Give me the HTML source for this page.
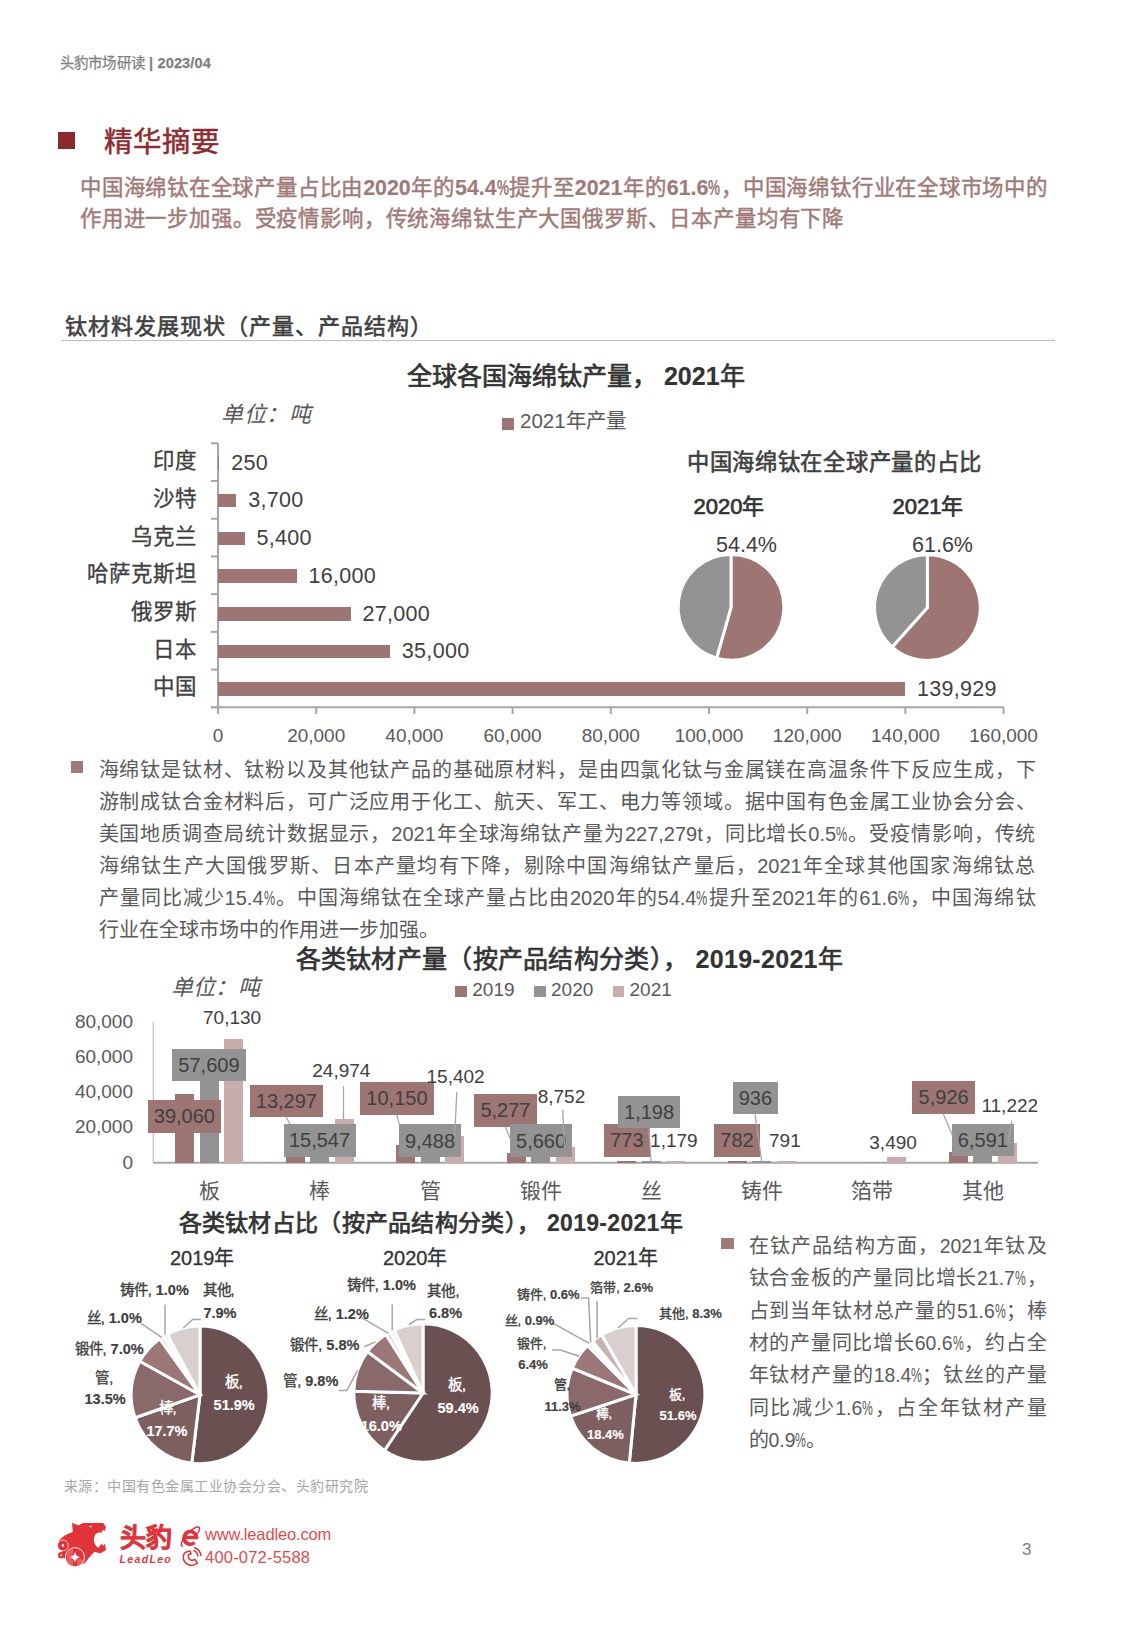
<!DOCTYPE html><html lang="zh-CN"><head><meta charset="utf-8"><style>
html,body{margin:0;padding:0;background:#fff;}
body{width:1125px;height:1625px;position:relative;overflow:hidden;font-family:"Liberation Sans",sans-serif;}
.t{position:absolute;white-space:nowrap;}
.r{position:absolute;}
.pc{display:inline-block;width:.56em;overflow:visible}
.pc{transform:scaleX(.63);transform-origin:0 50%}
svg{position:absolute;left:0;top:0;}
</style></head><body>
<svg width="1125" height="1625" style="position:absolute;left:0;top:0"><line x1="218.00" y1="443.30" x2="218.00" y2="707.30" stroke="#a6a6a6" stroke-width="2"/>
<line x1="211.00" y1="443.30" x2="218.00" y2="443.30" stroke="#a6a6a6" stroke-width="2"/>
<line x1="211.00" y1="481.01" x2="218.00" y2="481.01" stroke="#a6a6a6" stroke-width="2"/>
<line x1="211.00" y1="518.73" x2="218.00" y2="518.73" stroke="#a6a6a6" stroke-width="2"/>
<line x1="211.00" y1="556.44" x2="218.00" y2="556.44" stroke="#a6a6a6" stroke-width="2"/>
<line x1="211.00" y1="594.16" x2="218.00" y2="594.16" stroke="#a6a6a6" stroke-width="2"/>
<line x1="211.00" y1="631.87" x2="218.00" y2="631.87" stroke="#a6a6a6" stroke-width="2"/>
<line x1="211.00" y1="669.59" x2="218.00" y2="669.59" stroke="#a6a6a6" stroke-width="2"/>
<line x1="211.00" y1="707.30" x2="218.00" y2="707.30" stroke="#a6a6a6" stroke-width="2"/>
<line x1="211.00" y1="707.30" x2="1004.00" y2="707.30" stroke="#a6a6a6" stroke-width="2"/>
<line x1="218.00" y1="707.30" x2="218.00" y2="714.00" stroke="#a6a6a6" stroke-width="2"/>
<line x1="316.20" y1="707.30" x2="316.20" y2="714.00" stroke="#a6a6a6" stroke-width="2"/>
<line x1="414.40" y1="707.30" x2="414.40" y2="714.00" stroke="#a6a6a6" stroke-width="2"/>
<line x1="512.60" y1="707.30" x2="512.60" y2="714.00" stroke="#a6a6a6" stroke-width="2"/>
<line x1="610.80" y1="707.30" x2="610.80" y2="714.00" stroke="#a6a6a6" stroke-width="2"/>
<line x1="709.00" y1="707.30" x2="709.00" y2="714.00" stroke="#a6a6a6" stroke-width="2"/>
<line x1="807.20" y1="707.30" x2="807.20" y2="714.00" stroke="#a6a6a6" stroke-width="2"/>
<line x1="905.40" y1="707.30" x2="905.40" y2="714.00" stroke="#a6a6a6" stroke-width="2"/>
<line x1="1003.60" y1="707.30" x2="1003.60" y2="714.00" stroke="#a6a6a6" stroke-width="2"/>
<path d="M731.00,607.30 L731.00,554.50 A52.8,52.8 0 1 1 716.59,658.10 Z" fill="#9d7573" stroke="#fff" stroke-width="3" stroke-linejoin="miter"/>
<path d="M731.00,607.30 L716.59,658.10 A52.8,52.8 0 0 1 731.00,554.50 Z" fill="#939393" stroke="#fff" stroke-width="3" stroke-linejoin="miter"/>
<path d="M927.40,607.60 L927.40,554.70 A52.9,52.9 0 1 1 892.17,647.06 Z" fill="#9d7573" stroke="#fff" stroke-width="3" stroke-linejoin="miter"/>
<path d="M927.40,607.60 L892.17,647.06 A52.9,52.9 0 0 1 927.40,554.70 Z" fill="#939393" stroke="#fff" stroke-width="3" stroke-linejoin="miter"/>
<line x1="153.30" y1="1022.00" x2="153.30" y2="1162.70" stroke="#bfbfbf" stroke-width="1.2"/>
<line x1="153.30" y1="1162.70" x2="1038.00" y2="1162.70" stroke="#a6a6a6" stroke-width="2"/>
<path d="M200.00,1394.80 L200.00,1325.90 A68.9,68.9 0 1 1 191.79,1463.21 Z" fill="#6a5050" stroke="#fff" stroke-width="3" stroke-linejoin="miter"/>
<path d="M200.00,1394.80 L191.79,1463.21 A68.9,68.9 0 0 1 135.03,1417.73 Z" fill="#7d5f60" stroke="#fff" stroke-width="3" stroke-linejoin="miter"/>
<path d="M200.00,1394.80 L135.03,1417.73 A68.9,68.9 0 0 1 139.83,1361.23 Z" fill="#8a696a" stroke="#fff" stroke-width="3" stroke-linejoin="miter"/>
<path d="M200.00,1394.80 L139.83,1361.23 A68.9,68.9 0 0 1 159.85,1338.81 Z" fill="#9b7877" stroke="#fff" stroke-width="3" stroke-linejoin="miter"/>
<path d="M200.00,1394.80 L159.85,1338.81 A68.9,68.9 0 0 1 163.45,1336.39 Z" fill="#e4d8d8" stroke="#fff" stroke-width="3" stroke-linejoin="miter"/>
<path d="M200.00,1394.80 L163.45,1336.39 A68.9,68.9 0 0 1 167.19,1334.22 Z" fill="#efe6e6" stroke="#fff" stroke-width="3" stroke-linejoin="miter"/>
<path d="M200.00,1394.80 L167.19,1334.22 A68.9,68.9 0 0 1 200.00,1325.90 Z" fill="#d9cfcf" stroke="#fff" stroke-width="3" stroke-linejoin="miter"/>
<path d="M423.00,1393.00 L423.00,1323.80 A69.2,69.2 0 1 1 384.46,1450.48 Z" fill="#6a5050" stroke="#fff" stroke-width="3" stroke-linejoin="miter"/>
<path d="M423.00,1393.00 L384.46,1450.48 A69.2,69.2 0 0 1 353.82,1391.26 Z" fill="#7d5f60" stroke="#fff" stroke-width="3" stroke-linejoin="miter"/>
<path d="M423.00,1393.00 L353.82,1391.26 A69.2,69.2 0 0 1 367.53,1351.62 Z" fill="#8a696a" stroke="#fff" stroke-width="3" stroke-linejoin="miter"/>
<path d="M423.00,1393.00 L367.53,1351.62 A69.2,69.2 0 0 1 385.92,1334.57 Z" fill="#9b7877" stroke="#fff" stroke-width="3" stroke-linejoin="miter"/>
<path d="M423.00,1393.00 L385.92,1334.57 A69.2,69.2 0 0 1 390.43,1331.95 Z" fill="#e4d8d8" stroke="#fff" stroke-width="3" stroke-linejoin="miter"/>
<path d="M423.00,1393.00 L390.43,1331.95 A69.2,69.2 0 0 1 394.33,1330.02 Z" fill="#efe6e6" stroke="#fff" stroke-width="3" stroke-linejoin="miter"/>
<path d="M423.00,1393.00 L394.33,1330.02 A69.2,69.2 0 0 1 423.00,1323.80 Z" fill="#d9cfcf" stroke="#fff" stroke-width="3" stroke-linejoin="miter"/>
<path d="M636.00,1394.50 L636.00,1325.60 A68.9,68.9 0 1 1 629.31,1463.07 Z" fill="#6a5050" stroke="#fff" stroke-width="3" stroke-linejoin="miter"/>
<path d="M636.00,1394.50 L629.31,1463.07 A68.9,68.9 0 0 1 570.57,1416.08 Z" fill="#7d5f60" stroke="#fff" stroke-width="3" stroke-linejoin="miter"/>
<path d="M636.00,1394.50 L570.57,1416.08 A68.9,68.9 0 0 1 572.29,1368.26 Z" fill="#8a696a" stroke="#fff" stroke-width="3" stroke-linejoin="miter"/>
<path d="M636.00,1394.50 L572.29,1368.26 A68.9,68.9 0 0 1 587.63,1345.44 Z" fill="#9b7877" stroke="#fff" stroke-width="3" stroke-linejoin="miter"/>
<path d="M636.00,1394.50 L587.63,1345.44 A68.9,68.9 0 0 1 590.47,1342.78 Z" fill="#e4d8d8" stroke="#fff" stroke-width="3" stroke-linejoin="miter"/>
<path d="M636.00,1394.50 L590.47,1342.78 A68.9,68.9 0 0 1 592.45,1341.11 Z" fill="#efe6e6" stroke="#fff" stroke-width="3" stroke-linejoin="miter"/>
<path d="M636.00,1394.50 L592.45,1341.11 A68.9,68.9 0 0 1 601.71,1334.74 Z" fill="#c6b3b3" stroke="#fff" stroke-width="3" stroke-linejoin="miter"/>
<path d="M636.00,1394.50 L601.71,1334.74 A68.9,68.9 0 0 1 636.00,1325.60 Z" fill="#d9cfcf" stroke="#fff" stroke-width="3" stroke-linejoin="miter"/>
<line x1="165.00" y1="1304.50" x2="165.00" y2="1334.40" stroke="#a6a6a6" stroke-width="1.5"/>
<line x1="141.00" y1="1323.30" x2="162.00" y2="1337.60" stroke="#a6a6a6" stroke-width="1.5"/>
<polyline points="200.80,1319.50 192.70,1319.50 183.30,1328.00" fill="none" stroke="#a6a6a6" stroke-width="1.5"/>
<line x1="392.20" y1="1304.50" x2="392.20" y2="1330.60" stroke="#a6a6a6" stroke-width="1.5"/>
<line x1="359.60" y1="1316.30" x2="388.40" y2="1333.30" stroke="#a6a6a6" stroke-width="1.5"/>
<line x1="363.90" y1="1346.80" x2="375.60" y2="1341.90" stroke="#a6a6a6" stroke-width="1.5"/>
<polyline points="338.70,1390.50 346.80,1390.50 357.50,1370.70" fill="none" stroke="#a6a6a6" stroke-width="1.5"/>
<polyline points="425.30,1319.50 416.80,1319.50 408.70,1324.80" fill="none" stroke="#a6a6a6" stroke-width="1.5"/>
<polyline points="580.70,1298.10 588.60,1298.10 590.70,1342.50" fill="none" stroke="#a6a6a6" stroke-width="1.5"/>
<line x1="597.10" y1="1300.70" x2="597.10" y2="1338.20" stroke="#a6a6a6" stroke-width="1.5"/>
<line x1="551.90" y1="1322.70" x2="589.20" y2="1343.40" stroke="#a6a6a6" stroke-width="1.5"/>
<polyline points="552.30,1350.00 560.40,1350.00 579.20,1356.20" fill="none" stroke="#a6a6a6" stroke-width="1.5"/>
<polyline points="637.60,1318.40 628.70,1318.40 618.00,1328.00" fill="none" stroke="#a6a6a6" stroke-width="1.5"/></svg>
<div class="t" style="left:60px;top:56px;font-size:14.5px;line-height:14.5px;color:#7f7f7f;font-weight:normal;-webkit-text-stroke:0.25px #7f7f7f;letter-spacing:0.15px;">头豹市场研读 <b>| 2023/04</b></div>
<div class="r" style="left:58.00px;top:132.00px;width:17.00px;height:17.00px;background:#8b2a2e;"></div>
<div class="t" style="left:103.5px;top:128px;font-size:28.5px;line-height:28.5px;color:#8e2b30;font-weight:normal;-webkit-text-stroke:0.5px #8e2b30;">精华摘要</div>
<div class="t" style="left:80px;top:178px;font-size:21.4px;line-height:21.4px;color:#a07a78;font-weight:normal;-webkit-text-stroke:0.45px #a07a78;width:967px;text-align:justify;text-align-last:justify;">中国海绵钛在全球产量占比由<b style="font-size:21.40px;-webkit-text-stroke-width:0.15px">2020</b>年的<b style="font-size:21.40px;-webkit-text-stroke-width:0.15px">54.4<span class="pc">%</span></b>提升至<b style="font-size:21.40px;-webkit-text-stroke-width:0.15px">2021</b>年的<b style="font-size:21.40px;-webkit-text-stroke-width:0.15px">61.6<span class="pc">%</span></b>，中国海绵钛行业在全球市场中的</div>
<div class="t" style="left:80px;top:209px;font-size:21.4px;line-height:21.4px;color:#a07a78;font-weight:normal;-webkit-text-stroke:0.45px #a07a78;letter-spacing:0.83px;">作用进一步加强。受疫情影响，传统海绵钛生产大国俄罗斯、日本产量均有下降</div>
<div class="t" style="left:65px;top:315.5px;font-size:22px;line-height:22px;color:#404040;font-weight:normal;-webkit-text-stroke:0.6px #404040;letter-spacing:1px;">钛材料发展现状（产量、产品结构）</div>
<div class="r" style="left:61.00px;top:340.00px;width:994.00px;height:1.00px;background:#bfbfbf;"></div>
<div class="t" style="left:407px;top:364px;font-size:25px;line-height:25px;color:#333333;font-weight:normal;-webkit-text-stroke:0.7px #333333;">全球各国海绵钛产量， <b style="font-size:25.00px;-webkit-text-stroke-width:0.15px">2021</b>年</div>
<div class="t" style="left:221px;top:404px;font-size:22px;line-height:22px;color:#595959;font-weight:normal;letter-spacing:0.5px;font-style:italic;">单位：吨</div>
<div class="r" style="left:502.00px;top:417.50px;width:12.00px;height:12.00px;background:#9d7573;"></div>
<div class="t" style="left:520px;top:411px;font-size:20.5px;line-height:20.5px;color:#595959;font-weight:normal;">2021年产量</div>
<div class="t" style="left:-82.0px;width:600px;text-align:center;top:726px;font-size:19px;line-height:19px;color:#595959;font-weight:normal;">0</div>
<div class="t" style="left:16.19999999999999px;width:600px;text-align:center;top:726px;font-size:19px;line-height:19px;color:#595959;font-weight:normal;">20,000</div>
<div class="t" style="left:114.39999999999998px;width:600px;text-align:center;top:726px;font-size:19px;line-height:19px;color:#595959;font-weight:normal;">40,000</div>
<div class="t" style="left:212.60000000000002px;width:600px;text-align:center;top:726px;font-size:19px;line-height:19px;color:#595959;font-weight:normal;">60,000</div>
<div class="t" style="left:310.79999999999995px;width:600px;text-align:center;top:726px;font-size:19px;line-height:19px;color:#595959;font-weight:normal;">80,000</div>
<div class="t" style="left:409.0px;width:600px;text-align:center;top:726px;font-size:19px;line-height:19px;color:#595959;font-weight:normal;">100,000</div>
<div class="t" style="left:507.20000000000005px;width:600px;text-align:center;top:726px;font-size:19px;line-height:19px;color:#595959;font-weight:normal;">120,000</div>
<div class="t" style="left:605.4px;width:600px;text-align:center;top:726px;font-size:19px;line-height:19px;color:#595959;font-weight:normal;">140,000</div>
<div class="t" style="left:703.6px;width:600px;text-align:center;top:726px;font-size:19px;line-height:19px;color:#595959;font-weight:normal;">160,000</div>
<div class="r" style="left:218.00px;top:456.16px;width:1.23px;height:13.50px;background:#9d7573;"></div>
<div class="t" style="left:-203px;width:400px;text-align:right;top:451.15714285714284px;font-size:21.5px;line-height:21.5px;color:#404040;font-weight:normal;-webkit-text-stroke:0.3px #404040;">印度</div>
<div class="t" style="left:231.2275px;top:452.65714285714284px;font-size:21.5px;line-height:21.5px;color:#404040;font-weight:normal;letter-spacing:0.3px;">250</div>
<div class="r" style="left:218.00px;top:493.87px;width:18.17px;height:13.50px;background:#9d7573;"></div>
<div class="t" style="left:-203px;width:400px;text-align:right;top:488.87142857142857px;font-size:21.5px;line-height:21.5px;color:#404040;font-weight:normal;-webkit-text-stroke:0.3px #404040;">沙特</div>
<div class="t" style="left:248.167px;top:490.37142857142857px;font-size:21.5px;line-height:21.5px;color:#404040;font-weight:normal;letter-spacing:0.3px;">3,700</div>
<div class="r" style="left:218.00px;top:531.59px;width:26.51px;height:13.50px;background:#9d7573;"></div>
<div class="t" style="left:-203px;width:400px;text-align:right;top:526.5857142857143px;font-size:21.5px;line-height:21.5px;color:#404040;font-weight:normal;-webkit-text-stroke:0.3px #404040;">乌克兰</div>
<div class="t" style="left:256.514px;top:528.0857142857143px;font-size:21.5px;line-height:21.5px;color:#404040;font-weight:normal;letter-spacing:0.3px;">5,400</div>
<div class="r" style="left:218.00px;top:569.30px;width:78.56px;height:13.50px;background:#9d7573;"></div>
<div class="t" style="left:-203px;width:400px;text-align:right;top:564.3px;font-size:21.5px;line-height:21.5px;color:#404040;font-weight:normal;-webkit-text-stroke:0.3px #404040;">哈萨克斯坦</div>
<div class="t" style="left:308.56px;top:565.8px;font-size:21.5px;line-height:21.5px;color:#404040;font-weight:normal;letter-spacing:0.3px;">16,000</div>
<div class="r" style="left:218.00px;top:607.01px;width:132.57px;height:13.50px;background:#9d7573;"></div>
<div class="t" style="left:-203px;width:400px;text-align:right;top:602.0142857142857px;font-size:21.5px;line-height:21.5px;color:#404040;font-weight:normal;-webkit-text-stroke:0.3px #404040;">俄罗斯</div>
<div class="t" style="left:362.57000000000005px;top:603.5142857142857px;font-size:21.5px;line-height:21.5px;color:#404040;font-weight:normal;letter-spacing:0.3px;">27,000</div>
<div class="r" style="left:218.00px;top:644.73px;width:171.85px;height:13.50px;background:#9d7573;"></div>
<div class="t" style="left:-203px;width:400px;text-align:right;top:639.7285714285714px;font-size:21.5px;line-height:21.5px;color:#404040;font-weight:normal;-webkit-text-stroke:0.3px #404040;">日本</div>
<div class="t" style="left:401.85px;top:641.2285714285714px;font-size:21.5px;line-height:21.5px;color:#404040;font-weight:normal;letter-spacing:0.3px;">35,000</div>
<div class="r" style="left:218.00px;top:682.44px;width:687.05px;height:13.50px;background:#9d7573;"></div>
<div class="t" style="left:-203px;width:400px;text-align:right;top:677.4428571428571px;font-size:21.5px;line-height:21.5px;color:#404040;font-weight:normal;-webkit-text-stroke:0.3px #404040;">中国</div>
<div class="t" style="left:917.0513900000001px;top:678.9428571428571px;font-size:21.5px;line-height:21.5px;color:#404040;font-weight:normal;letter-spacing:0.3px;">139,929</div>
<div class="t" style="left:687px;top:452px;font-size:22.3px;line-height:22.3px;color:#404040;font-weight:normal;-webkit-text-stroke:0.6px #404040;letter-spacing:0.7px;">中国海绵钛在全球产量的占比</div>
<div class="t" style="left:693.5px;top:496px;font-size:22px;line-height:22px;color:#333333;font-weight:normal;-webkit-text-stroke:0.7px #333333;">2020年</div>
<div class="t" style="left:892.5px;top:496px;font-size:22px;line-height:22px;color:#333333;font-weight:normal;-webkit-text-stroke:0.7px #333333;">2021年</div>
<div class="t" style="left:716px;top:534.5px;font-size:21.5px;line-height:21.5px;color:#404040;font-weight:normal;">54.4%</div>
<div class="t" style="left:912px;top:534.5px;font-size:21.5px;line-height:21.5px;color:#404040;font-weight:normal;">61.6%</div>
<div class="r" style="left:71.20px;top:761.20px;width:12.00px;height:12.00px;background:#a07a7a;"></div>
<div class="t" style="left:98.5px;top:760.0px;font-size:20px;line-height:20px;color:#5a5a5a;font-weight:normal;width:937px;text-align:justify;text-align-last:justify;">海绵钛是钛材、钛粉以及其他钛产品的基础原材料，是由四氯化钛与金属镁在高温条件下反应生成，下</div>
<div class="t" style="left:98.5px;top:791.9px;font-size:20px;line-height:20px;color:#5a5a5a;font-weight:normal;width:937px;text-align:justify;text-align-last:justify;">游制成钛合金材料后，可广泛应用于化工、航天、军工、电力等领域。据中国有色金属工业协会分会、</div>
<div class="t" style="left:98.5px;top:823.8px;font-size:20px;line-height:20px;color:#5a5a5a;font-weight:normal;width:937px;text-align:justify;text-align-last:justify;">美国地质调查局统计数据显示，2021年全球海绵钛产量为227,279t，同比增长0.5<span class="pc">%</span>。受疫情影响，传统</div>
<div class="t" style="left:98.5px;top:855.7px;font-size:20px;line-height:20px;color:#5a5a5a;font-weight:normal;width:937px;text-align:justify;text-align-last:justify;">海绵钛生产大国俄罗斯、日本产量均有下降，剔除中国海绵钛产量后，2021年全球其他国家海绵钛总</div>
<div class="t" style="left:98.5px;top:887.6px;font-size:20px;line-height:20px;color:#5a5a5a;font-weight:normal;width:937px;text-align:justify;text-align-last:justify;">产量同比减少15.4<span class="pc">%</span>。中国海绵钛在全球产量占比由2020年的54.4<span class="pc">%</span>提升至2021年的61.6<span class="pc">%</span>，中国海绵钛</div>
<div class="t" style="left:98.5px;top:919.5px;font-size:20px;line-height:20px;color:#5a5a5a;font-weight:normal;">行业在全球市场中的作用进一步加强。</div>
<div class="t" style="left:295.5px;top:947px;font-size:25px;line-height:25px;color:#333333;font-weight:normal;-webkit-text-stroke:0.7px #333333;letter-spacing:0.3px;">各类钛材产量（按产品结构分类）， <b style="font-size:25.00px;-webkit-text-stroke-width:0.15px">2019-2021</b>年</div>
<div class="r" style="left:455.30px;top:985.70px;width:11.50px;height:11.50px;background:#9d7573;"></div>
<div class="t" style="left:472.3px;top:980px;font-size:19px;line-height:19px;color:#595959;font-weight:normal;">2019</div>
<div class="r" style="left:534.00px;top:985.70px;width:11.50px;height:11.50px;background:#939393;"></div>
<div class="t" style="left:551px;top:980px;font-size:19px;line-height:19px;color:#595959;font-weight:normal;">2020</div>
<div class="r" style="left:612.50px;top:985.70px;width:11.50px;height:11.50px;background:#c9adad;"></div>
<div class="t" style="left:629.5px;top:980px;font-size:19px;line-height:19px;color:#595959;font-weight:normal;">2021</div>
<div class="t" style="left:170.5px;top:976.5px;font-size:22px;line-height:22px;color:#595959;font-weight:normal;letter-spacing:0.4px;font-style:italic;">单位：吨</div>
<div class="t" style="left:-267px;width:400px;text-align:right;top:1152.7px;font-size:19px;line-height:19px;color:#595959;font-weight:normal;">0</div>
<div class="t" style="left:-267px;width:400px;text-align:right;top:1117.4px;font-size:19px;line-height:19px;color:#595959;font-weight:normal;">20,000</div>
<div class="t" style="left:-267px;width:400px;text-align:right;top:1082.1000000000001px;font-size:19px;line-height:19px;color:#595959;font-weight:normal;">40,000</div>
<div class="t" style="left:-267px;width:400px;text-align:right;top:1046.8px;font-size:19px;line-height:19px;color:#595959;font-weight:normal;">60,000</div>
<div class="t" style="left:-267px;width:400px;text-align:right;top:1011.5px;font-size:19px;line-height:19px;color:#595959;font-weight:normal;">80,000</div>
<div class="r" style="left:175.20px;top:1093.76px;width:19.20px;height:68.94px;background:#9d7573;"></div>
<div class="r" style="left:199.50px;top:1061.02px;width:19.20px;height:101.68px;background:#939393;"></div>
<div class="r" style="left:224.00px;top:1038.92px;width:19.20px;height:123.78px;background:#c9adad;"></div>
<div class="t" style="left:-90.80000000000001px;width:600px;text-align:center;top:1180px;font-size:21px;line-height:21px;color:#595959;font-weight:normal;">板</div>
<div class="r" style="left:285.70px;top:1139.23px;width:19.20px;height:23.47px;background:#9d7573;"></div>
<div class="r" style="left:310.00px;top:1135.26px;width:19.20px;height:27.44px;background:#939393;"></div>
<div class="r" style="left:334.50px;top:1118.62px;width:19.20px;height:44.08px;background:#c9adad;"></div>
<div class="t" style="left:19.69999999999999px;width:600px;text-align:center;top:1180px;font-size:21px;line-height:21px;color:#595959;font-weight:normal;">棒</div>
<div class="r" style="left:396.20px;top:1144.79px;width:19.20px;height:17.91px;background:#9d7573;"></div>
<div class="r" style="left:420.50px;top:1145.95px;width:19.20px;height:16.75px;background:#939393;"></div>
<div class="r" style="left:445.00px;top:1135.52px;width:19.20px;height:27.18px;background:#c9adad;"></div>
<div class="t" style="left:130.2px;width:600px;text-align:center;top:1180px;font-size:21px;line-height:21px;color:#595959;font-weight:normal;">管</div>
<div class="r" style="left:506.70px;top:1153.39px;width:19.20px;height:9.31px;background:#9d7573;"></div>
<div class="r" style="left:531.00px;top:1152.71px;width:19.20px;height:9.99px;background:#939393;"></div>
<div class="r" style="left:555.50px;top:1147.25px;width:19.20px;height:15.45px;background:#c9adad;"></div>
<div class="t" style="left:240.70000000000005px;width:600px;text-align:center;top:1180px;font-size:21px;line-height:21px;color:#595959;font-weight:normal;">锻件</div>
<div class="r" style="left:617.20px;top:1161.34px;width:19.20px;height:1.36px;background:#9d7573;"></div>
<div class="r" style="left:641.50px;top:1160.59px;width:19.20px;height:2.11px;background:#939393;"></div>
<div class="r" style="left:666.00px;top:1160.62px;width:19.20px;height:2.08px;background:#c9adad;"></div>
<div class="t" style="left:351.20000000000005px;width:600px;text-align:center;top:1180px;font-size:21px;line-height:21px;color:#595959;font-weight:normal;">丝</div>
<div class="r" style="left:727.70px;top:1161.32px;width:19.20px;height:1.38px;background:#9d7573;"></div>
<div class="r" style="left:752.00px;top:1161.05px;width:19.20px;height:1.65px;background:#939393;"></div>
<div class="r" style="left:776.50px;top:1161.30px;width:19.20px;height:1.40px;background:#c9adad;"></div>
<div class="t" style="left:461.70000000000005px;width:600px;text-align:center;top:1180px;font-size:21px;line-height:21px;color:#595959;font-weight:normal;">铸件</div>
<div class="r" style="left:887.00px;top:1156.54px;width:19.20px;height:6.16px;background:#c9adad;"></div>
<div class="t" style="left:572.2px;width:600px;text-align:center;top:1180px;font-size:21px;line-height:21px;color:#595959;font-weight:normal;">箔带</div>
<div class="r" style="left:948.70px;top:1152.24px;width:19.20px;height:10.46px;background:#9d7573;"></div>
<div class="r" style="left:973.00px;top:1151.07px;width:19.20px;height:11.63px;background:#939393;"></div>
<div class="r" style="left:997.50px;top:1142.89px;width:19.20px;height:19.81px;background:#c9adad;"></div>
<div class="t" style="left:682.7px;width:600px;text-align:center;top:1180px;font-size:21px;line-height:21px;color:#595959;font-weight:normal;">其他</div>
<div class="r" style="left:148.00px;top:1100.00px;width:72.80px;height:32.50px;background:#9d7573;"></div>
<div class="t" style="left:-115.6px;width:600px;text-align:center;top:1106.25px;font-size:20px;line-height:20px;color:#404040;font-weight:normal;">39,060</div>
<div class="r" style="left:172.00px;top:1048.80px;width:73.90px;height:32.50px;background:#939393;"></div>
<div class="t" style="left:-91.05000000000001px;width:600px;text-align:center;top:1055.05px;font-size:20px;line-height:20px;color:#404040;font-weight:normal;">57,609</div>
<div class="r" style="left:250.00px;top:1085.30px;width:72.70px;height:32.00px;background:#9d7573;"></div>
<div class="t" style="left:-13.649999999999977px;width:600px;text-align:center;top:1091.3px;font-size:20px;line-height:20px;color:#404040;font-weight:normal;">13,297</div>
<div class="r" style="left:283.50px;top:1124.00px;width:72.00px;height:32.50px;background:#939393;"></div>
<div class="t" style="left:19.5px;width:600px;text-align:center;top:1130.25px;font-size:20px;line-height:20px;color:#404040;font-weight:normal;">15,547</div>
<div class="r" style="left:360.00px;top:1082.10px;width:73.90px;height:32.60px;background:#9d7573;"></div>
<div class="t" style="left:96.94999999999999px;width:600px;text-align:center;top:1088.4px;font-size:20px;line-height:20px;color:#404040;font-weight:normal;">10,150</div>
<div class="r" style="left:399.20px;top:1124.30px;width:61.60px;height:32.50px;background:#939393;"></div>
<div class="t" style="left:130.0px;width:600px;text-align:center;top:1130.55px;font-size:20px;line-height:20px;color:#404040;font-weight:normal;">9,488</div>
<div class="r" style="left:474.10px;top:1094.10px;width:62.70px;height:32.60px;background:#9d7573;"></div>
<div class="t" style="left:205.45px;width:600px;text-align:center;top:1100.4px;font-size:20px;line-height:20px;color:#404040;font-weight:normal;">5,277</div>
<div class="r" style="left:510.10px;top:1124.30px;width:61.90px;height:32.50px;background:#939393;"></div>
<div class="t" style="left:241.04999999999995px;width:600px;text-align:center;top:1130.55px;font-size:20px;line-height:20px;color:#404040;font-weight:normal;">5,660</div>
<div class="r" style="left:603.80px;top:1124.00px;width:46.20px;height:32.70px;background:#9d7573;"></div>
<div class="t" style="left:326.9px;width:600px;text-align:center;top:1130.35px;font-size:20px;line-height:20px;color:#404040;font-weight:normal;">773</div>
<div class="r" style="left:618.20px;top:1096.00px;width:61.80px;height:32.40px;background:#939393;"></div>
<div class="t" style="left:349.1px;width:600px;text-align:center;top:1102.2px;font-size:20px;line-height:20px;color:#404040;font-weight:normal;">1,198</div>
<div class="r" style="left:714.00px;top:1124.00px;width:46.00px;height:32.70px;background:#9d7573;"></div>
<div class="t" style="left:437.0px;width:600px;text-align:center;top:1130.35px;font-size:20px;line-height:20px;color:#404040;font-weight:normal;">782</div>
<div class="r" style="left:732.90px;top:1082.20px;width:44.90px;height:32.20px;background:#939393;"></div>
<div class="t" style="left:455.3499999999999px;width:600px;text-align:center;top:1088.3000000000002px;font-size:20px;line-height:20px;color:#404040;font-weight:normal;">936</div>
<div class="r" style="left:912.30px;top:1081.10px;width:62.70px;height:32.70px;background:#9d7573;"></div>
<div class="t" style="left:643.65px;width:600px;text-align:center;top:1087.4499999999998px;font-size:20px;line-height:20px;color:#404040;font-weight:normal;">5,926</div>
<div class="r" style="left:951.80px;top:1124.00px;width:62.20px;height:32.40px;background:#939393;"></div>
<div class="t" style="left:682.9px;width:600px;text-align:center;top:1130.2px;font-size:20px;line-height:20px;color:#404040;font-weight:normal;">6,591</div>
<div class="t" style="left:203px;top:1008px;font-size:19px;line-height:19px;color:#404040;font-weight:normal;">70,130</div>
<div class="t" style="left:312.3px;top:1061px;font-size:19px;line-height:19px;color:#404040;font-weight:normal;">24,974</div>
<div class="t" style="left:426.5px;top:1067px;font-size:19px;line-height:19px;color:#404040;font-weight:normal;">15,402</div>
<div class="t" style="left:537.7px;top:1086.5px;font-size:19px;line-height:19px;color:#404040;font-weight:normal;">8,752</div>
<div class="t" style="left:650.1px;top:1130.5px;font-size:19px;line-height:19px;color:#404040;font-weight:normal;">1,179</div>
<div class="t" style="left:769px;top:1130.5px;font-size:19px;line-height:19px;color:#404040;font-weight:normal;">791</div>
<div class="t" style="left:869.3px;top:1132.8px;font-size:19px;line-height:19px;color:#404040;font-weight:normal;">3,490</div>
<div class="t" style="left:981.4px;top:1096px;font-size:19px;line-height:19px;color:#404040;font-weight:normal;">11,222</div>
<div class="t" style="left:178.5px;top:1212px;font-size:23px;line-height:23px;color:#333333;font-weight:normal;-webkit-text-stroke:0.75px #333333;letter-spacing:0.3px;">各类钛材占比（按产品结构分类）， <b style="font-size:23.00px;-webkit-text-stroke-width:0.15px">2019-2021</b>年</div>
<div class="t" style="left:170px;top:1247.5px;font-size:20px;line-height:20px;color:#333333;font-weight:normal;-webkit-text-stroke:0.3px #333333;">2019年</div>
<div class="t" style="left:383px;top:1247.5px;font-size:20px;line-height:20px;color:#333333;font-weight:normal;-webkit-text-stroke:0.3px #333333;">2020年</div>
<div class="t" style="left:593.5px;top:1247.5px;font-size:20px;line-height:20px;color:#333333;font-weight:normal;-webkit-text-stroke:0.3px #333333;">2021年</div>
<div class="t" style="left:119.7px;top:1283px;font-size:14.5px;line-height:14.5px;color:#404040;font-weight:normal;-webkit-text-stroke:0.35px #404040;">铸件, <b style="font-size:14.50px;-webkit-text-stroke-width:0.15px">1.0%</b></div>
<div class="t" style="left:202.5px;top:1283px;font-size:14.5px;line-height:14.5px;color:#404040;font-weight:normal;-webkit-text-stroke:0.35px #404040;">其他,</div>
<div class="t" style="left:203.4px;top:1305.5px;font-size:14.5px;line-height:14.5px;color:#404040;font-weight:normal;-webkit-text-stroke:0.35px #404040;"><b style="font-size:14.50px;-webkit-text-stroke-width:0.15px">7.9%</b></div>
<div class="t" style="left:86.7px;top:1311px;font-size:14.5px;line-height:14.5px;color:#404040;font-weight:normal;-webkit-text-stroke:0.35px #404040;">丝, <b style="font-size:14.50px;-webkit-text-stroke-width:0.15px">1.0%</b></div>
<div class="t" style="left:74.5px;top:1342px;font-size:14.5px;line-height:14.5px;color:#404040;font-weight:normal;-webkit-text-stroke:0.35px #404040;">锻件, <b style="font-size:14.50px;-webkit-text-stroke-width:0.15px">7.0%</b></div>
<div class="t" style="left:95.2px;top:1370.5px;font-size:14.5px;line-height:14.5px;color:#404040;font-weight:normal;-webkit-text-stroke:0.35px #404040;">管,</div>
<div class="t" style="left:84.5px;top:1392px;font-size:14.5px;line-height:14.5px;color:#404040;font-weight:normal;-webkit-text-stroke:0.35px #404040;"><b style="font-size:14.50px;-webkit-text-stroke-width:0.15px">13.5%</b></div>
<div class="t" style="left:224.7px;top:1375px;font-size:14.5px;line-height:14.5px;color:#fff;font-weight:normal;-webkit-text-stroke:0.35px #fff;">板,</div>
<div class="t" style="left:213.6px;top:1397.5px;font-size:14.5px;line-height:14.5px;color:#fff;font-weight:normal;-webkit-text-stroke:0.35px #fff;"><b style="font-size:14.50px;-webkit-text-stroke-width:0.15px">51.9%</b></div>
<div class="t" style="left:158.6px;top:1401px;font-size:14.5px;line-height:14.5px;color:#fff;font-weight:normal;-webkit-text-stroke:0.35px #fff;">棒,</div>
<div class="t" style="left:146.4px;top:1423.5px;font-size:14.5px;line-height:14.5px;color:#fff;font-weight:normal;-webkit-text-stroke:0.35px #fff;"><b style="font-size:14.50px;-webkit-text-stroke-width:0.15px">17.7%</b></div>
<div class="t" style="left:346.8px;top:1278px;font-size:14.5px;line-height:14.5px;color:#404040;font-weight:normal;-webkit-text-stroke:0.35px #404040;">铸件, <b style="font-size:14.50px;-webkit-text-stroke-width:0.15px">1.0%</b></div>
<div class="t" style="left:427.4px;top:1284px;font-size:14.5px;line-height:14.5px;color:#404040;font-weight:normal;-webkit-text-stroke:0.35px #404040;">其他,</div>
<div class="t" style="left:429px;top:1305.5px;font-size:14.5px;line-height:14.5px;color:#404040;font-weight:normal;-webkit-text-stroke:0.35px #404040;"><b style="font-size:14.50px;-webkit-text-stroke-width:0.15px">6.8%</b></div>
<div class="t" style="left:313.7px;top:1306.5px;font-size:14.5px;line-height:14.5px;color:#404040;font-weight:normal;-webkit-text-stroke:0.35px #404040;">丝, <b style="font-size:14.50px;-webkit-text-stroke-width:0.15px">1.2%</b></div>
<div class="t" style="left:290.3px;top:1337.5px;font-size:14.5px;line-height:14.5px;color:#404040;font-weight:normal;-webkit-text-stroke:0.35px #404040;">锻件, <b style="font-size:14.50px;-webkit-text-stroke-width:0.15px">5.8%</b></div>
<div class="t" style="left:283.2px;top:1374px;font-size:14.5px;line-height:14.5px;color:#404040;font-weight:normal;-webkit-text-stroke:0.35px #404040;">管, <b style="font-size:14.50px;-webkit-text-stroke-width:0.15px">9.8%</b></div>
<div class="t" style="left:448.1px;top:1378px;font-size:14.5px;line-height:14.5px;color:#fff;font-weight:normal;-webkit-text-stroke:0.35px #fff;">板,</div>
<div class="t" style="left:437.5px;top:1400.5px;font-size:14.5px;line-height:14.5px;color:#fff;font-weight:normal;-webkit-text-stroke:0.35px #fff;"><b style="font-size:14.50px;-webkit-text-stroke-width:0.15px">59.4%</b></div>
<div class="t" style="left:372px;top:1396px;font-size:14.5px;line-height:14.5px;color:#fff;font-weight:normal;-webkit-text-stroke:0.35px #fff;">棒,</div>
<div class="t" style="left:360.7px;top:1418.5px;font-size:14.5px;line-height:14.5px;color:#fff;font-weight:normal;-webkit-text-stroke:0.35px #fff;"><b style="font-size:14.50px;-webkit-text-stroke-width:0.15px">16.0%</b></div>
<div class="t" style="left:516.7px;top:1287.5px;font-size:13px;line-height:13px;color:#404040;font-weight:normal;-webkit-text-stroke:0.35px #404040;">铸件, <b style="font-size:13.00px;-webkit-text-stroke-width:0.15px">0.6%</b></div>
<div class="t" style="left:590.3px;top:1281px;font-size:13px;line-height:13px;color:#404040;font-weight:normal;-webkit-text-stroke:0.35px #404040;">箔带, <b style="font-size:13.00px;-webkit-text-stroke-width:0.15px">2.6%</b></div>
<div class="t" style="left:659px;top:1306.5px;font-size:13px;line-height:13px;color:#404040;font-weight:normal;-webkit-text-stroke:0.35px #404040;">其他, <b style="font-size:13.00px;-webkit-text-stroke-width:0.15px">8.3%</b></div>
<div class="t" style="left:504.5px;top:1314px;font-size:13px;line-height:13px;color:#404040;font-weight:normal;-webkit-text-stroke:0.35px #404040;">丝, <b style="font-size:13.00px;-webkit-text-stroke-width:0.15px">0.9%</b></div>
<div class="t" style="left:516.7px;top:1336.5px;font-size:13px;line-height:13px;color:#404040;font-weight:normal;-webkit-text-stroke:0.35px #404040;">锻件,</div>
<div class="t" style="left:518.2px;top:1358px;font-size:13px;line-height:13px;color:#404040;font-weight:normal;-webkit-text-stroke:0.35px #404040;"><b style="font-size:13.00px;-webkit-text-stroke-width:0.15px">6.4%</b></div>
<div class="t" style="left:553.6px;top:1378px;font-size:13px;line-height:13px;color:#404040;font-weight:normal;-webkit-text-stroke:0.35px #404040;">管,</div>
<div class="t" style="left:544.4px;top:1399.5px;font-size:13px;line-height:13px;color:#404040;font-weight:normal;-webkit-text-stroke:0.35px #404040;"><b style="font-size:13.00px;-webkit-text-stroke-width:0.15px">11.3%</b></div>
<div class="t" style="left:668.8px;top:1388px;font-size:13px;line-height:13px;color:#fff;font-weight:normal;-webkit-text-stroke:0.35px #fff;">板,</div>
<div class="t" style="left:659.6px;top:1409px;font-size:13px;line-height:13px;color:#fff;font-weight:normal;-webkit-text-stroke:0.35px #fff;"><b style="font-size:13.00px;-webkit-text-stroke-width:0.15px">51.6%</b></div>
<div class="t" style="left:595.6px;top:1407px;font-size:13px;line-height:13px;color:#fff;font-weight:normal;-webkit-text-stroke:0.35px #fff;">棒,</div>
<div class="t" style="left:587px;top:1427.5px;font-size:13px;line-height:13px;color:#fff;font-weight:normal;-webkit-text-stroke:0.35px #fff;"><b style="font-size:13.00px;-webkit-text-stroke-width:0.15px">18.4%</b></div>
<div class="r" style="left:721.20px;top:1237.60px;width:12.50px;height:11.50px;background:#a07a7a;"></div>
<div class="t" style="left:748.5px;top:1236.0px;font-size:20px;line-height:20px;color:#5a5a5a;font-weight:normal;width:298px;text-align:justify;text-align-last:justify;">在钛产品结构方面，<span style="font-size:19.40px">2021</span>年钛及</div>
<div class="t" style="left:748.5px;top:1268.3px;font-size:20px;line-height:20px;color:#5a5a5a;font-weight:normal;width:298px;text-align:justify;text-align-last:justify;">钛合金板的产量同比增长<span style="font-size:19.40px">21.7<span class="pc">%</span></span>，</div>
<div class="t" style="left:748.5px;top:1300.6px;font-size:20px;line-height:20px;color:#5a5a5a;font-weight:normal;width:298px;text-align:justify;text-align-last:justify;">占到当年钛材总产量的<span style="font-size:19.40px">51.6<span class="pc">%</span></span>；棒</div>
<div class="t" style="left:748.5px;top:1332.9px;font-size:20px;line-height:20px;color:#5a5a5a;font-weight:normal;width:298px;text-align:justify;text-align-last:justify;">材的产量同比增长<span style="font-size:19.40px">60.6<span class="pc">%</span></span>，约占全</div>
<div class="t" style="left:748.5px;top:1365.2px;font-size:20px;line-height:20px;color:#5a5a5a;font-weight:normal;width:298px;text-align:justify;text-align-last:justify;">年钛材产量的<span style="font-size:19.40px">18.4<span class="pc">%</span></span>；钛丝的产量</div>
<div class="t" style="left:748.5px;top:1397.5px;font-size:20px;line-height:20px;color:#5a5a5a;font-weight:normal;width:298px;text-align:justify;text-align-last:justify;">同比减少<span style="font-size:19.40px">1.6<span class="pc">%</span></span>，占全年钛材产量</div>
<div class="t" style="left:748.5px;top:1429.8px;font-size:20px;line-height:20px;color:#5a5a5a;font-weight:normal;">的<span style="font-size:19.40px">0.9<span class="pc">%</span></span>。</div>
<div class="t" style="left:63.5px;top:1478.5px;font-size:14px;line-height:14px;color:#a6a6a6;font-weight:normal;letter-spacing:0.5px;">来源：中国有色金属工业协会分会、头豹研究院</div>
<div class="t" style="left:1022px;top:1541px;font-size:17px;line-height:17px;color:#7f7f7f;font-weight:normal;">3</div>
<div class="t" style="left:119.5px;top:1525px;font-size:26px;line-height:26px;color:#e0343a;font-weight:bold;-webkit-text-stroke:0.6px #e0343a;">头豹</div>
<div class="t" style="left:119.5px;top:1554px;font-size:10.5px;line-height:10.5px;color:#e0343a;font-weight:bold;font-style:italic;letter-spacing:1.35px;">LeadLeo</div>
<div class="t" style="left:205px;top:1526px;font-size:16.5px;line-height:16.5px;color:#e24a4e;font-weight:normal;letter-spacing:-0.15px;">www.leadleo.com</div>
<div class="t" style="left:205px;top:1549px;font-size:16.5px;line-height:16.5px;color:#e24a4e;font-weight:normal;letter-spacing:0.2px;">400-072-5588</div>
<svg width="1125" height="1625" style="position:absolute;left:0;top:0"><line x1="286" y1="1117" x2="290" y2="1124" stroke="#a6a6a6" stroke-width="1.3"/><line x1="343.5" y1="1086" x2="343.5" y2="1119.2" stroke="#a6a6a6" stroke-width="1.3"/><line x1="396.8" y1="1114.7" x2="399.2" y2="1124" stroke="#a6a6a6" stroke-width="1.3"/><line x1="456.8" y1="1092" x2="454.7" y2="1136" stroke="#a6a6a6" stroke-width="1.3"/><line x1="505.3" y1="1126.7" x2="510.7" y2="1140" stroke="#a6a6a6" stroke-width="1.3"/><line x1="562.7" y1="1109.9" x2="564.5" y2="1148" stroke="#a6a6a6" stroke-width="1.3"/><line x1="648.9" y1="1128.4" x2="651.1" y2="1162" stroke="#a6a6a6" stroke-width="1.3"/><line x1="755" y1="1114.4" x2="761.8" y2="1162" stroke="#a6a6a6" stroke-width="1.3"/><line x1="943.2" y1="1113.8" x2="952.4" y2="1135.3" stroke="#a6a6a6" stroke-width="1.3"/><line x1="1012" y1="1120.6" x2="1007.8" y2="1143.1" stroke="#a6a6a6" stroke-width="1.3"/></svg>
<svg width="1125" height="1625" style="position:absolute;left:0;top:0">
<path d="M72,1523 L78.7,1525.2 L83,1523 L103.2,1523 L106,1527 L104.8,1531 L102.5,1530 L101.5,1533 C98,1531.5 94.5,1534 94,1538.5 C93.6,1543 96,1546.5 98.6,1547.6 L101.8,1543.5 L103,1546 L104.8,1543.5 L106,1550 L100,1553.6 L94.7,1551.8 C91,1555 88,1559 85,1563 L74,1567 L64,1558 L58.6,1541 C62,1536.5 67,1533.5 72.8,1532 Z" fill="#e0343a"/>
<path d="M89,1526.5 L92.5,1525.5 L90.5,1527.5 Z" fill="#fff"/>
<circle cx="74.9" cy="1557.2" r="9.6" fill="#e0343a" stroke="#fff" stroke-width="0.9"/>
<path d="M68,1551 L68,1563 M70,1549.5 L70,1565 M72,1548.5 L72,1566 M78,1559 L78,1566 M80,1559 L80,1565 M82,1560 L82,1563" stroke="#f2a0a2" stroke-width="0.8"/>
<path d="M75,1551.8 Q75.7,1556.5 80.4,1557.2 Q75.7,1557.9 75,1562.6 Q74.3,1557.9 69.6,1557.2 Q74.3,1556.5 75,1551.8 Z" fill="#fff"/>
<circle cx="62.9" cy="1545.4" r="5.4" fill="#e0343a" stroke="#fff" stroke-width="0.7"/>
<circle cx="62.9" cy="1545.4" r="1.3" fill="#fff"/>
<circle cx="61.3" cy="1555.3" r="3.3" fill="#e0343a"/>
<circle cx="61.3" cy="1555.3" r="0.9" fill="#fff"/>
<path d="M184.5,1537.5 L196.5,1537.5 A6.3,6.3 0 1 0 194.5,1542.5" fill="none" stroke="#e0343a" stroke-width="3.6"/>
<path d="M183,1546 C180.5,1547 180.5,1543 184,1538 C188,1532 195,1526.5 198.5,1527 C200.5,1527.5 199.5,1531 197,1534" fill="none" stroke="#e0343a" stroke-width="1.4"/>
<path d="M187.5,1551.5 C182,1553 181.5,1561 188,1564.5 C191,1566 195,1565 197.5,1563 L195,1559.5 L192,1560.5 C189,1559.5 187.5,1557 188.5,1554.5 L191,1554 L190,1551 Z" fill="none" stroke="#e0343a" stroke-width="1.5"/>
<path d="M193.5,1550.5 Q197.5,1552 198,1556.5 M194,1547.5 Q200.5,1549.5 201,1556" fill="none" stroke="#e0343a" stroke-width="1.4"/>
</svg>
</body></html>
